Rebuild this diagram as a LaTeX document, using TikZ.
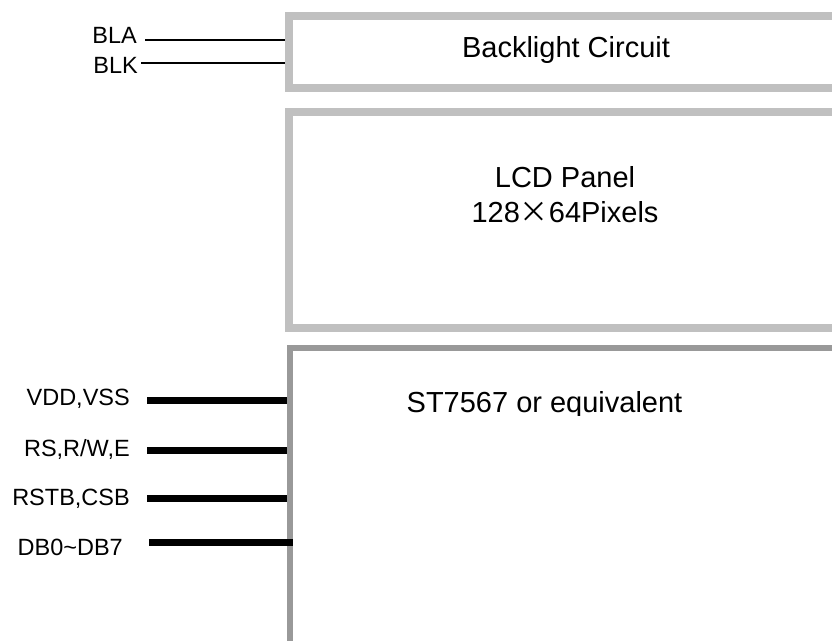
\documentclass[tikz,border=0pt]{standalone}
\usepackage{fontspec}
\setmainfont{Liberation Sans}
\newfontfamily\cjkfont{Noto Sans CJK SC}
\usetikzlibrary{positioning}
\definecolor{panelgray}{RGB}{192,192,192}
\definecolor{chipgray}{RGB}{153,153,153}

\begin{document}
\begin{tikzpicture}[x=1pt,y=-1pt,
    blockbox/.style={draw=panelgray,line width=8pt,anchor=north west,minimum width=620pt,inner sep=0pt},
    chipbox/.style={draw=chipgray,line width=6pt,anchor=north west,minimum width=620pt,minimum height=330pt,inner sep=0pt},
    bigtext/.style={font=\fontsize{29}{35}\selectfont,inner sep=0pt,anchor=base},
    pintext/.style={font=\fontsize{23.5}{28}\selectfont,inner sep=0pt,anchor=base east},
    thinpin/.style={line width=1.3pt},
    buspin/.style={line width=7pt}]
    \clip (0,0) rectangle (832,640);

    % Backlight
    \node[blockbox,minimum height=72pt] (backlight) at (285,12) {};
    \node[bigtext] (backlighttext) at (566,57) {Backlight Circuit};

    % LCD panel
    \node[blockbox,minimum height=216pt] (panel) at (285,108) {};
    \node[bigtext] (paneltext) at (565,187) {LCD Panel};
    \node[bigtext] (pixeltext) at (565,222) {128{\cjkfont ×}64Pixels};

    % Controller
    \node[chipbox] (ctrl) at (287,345) {};
    \begin{scope}
        \clip (380,370) rectangle (720,415);
        \node[bigtext] (ctrltext) at (544.5,412) {ST7567 or equivalent};
    \end{scope}

    % Backlight pins
    \coordinate (bla) at (145,40);
    \coordinate (blk) at (141,63);
    \node[pintext] (blatext) at (137,43.5) {BLA};
    \node[pintext] (blktext) at (138,73) {BLK};
    \draw[thinpin] (bla) -- (bla -| backlight.west);
    \draw[thinpin] (blk) -- (blk -| backlight.west);

    % Controller pins
    \coordinate (vdd) at (147,400);
    \coordinate (rs) at (147,450);
    \coordinate (rstb) at (147,498);
    \coordinate (db) at (149,542);
    \node[pintext] (vddtext) at (130,405) {VDD,VSS};
    \node[pintext] (rstext) at (130,456.5) {RS,R/W,E};
    \node[pintext] (rstbtext) at (130,505.5) {RSTB,CSB};
    \node[pintext] (dbtext) at (123,555) {DB0\char"7E DB7};
    \draw[buspin] (vdd) -- (vdd -| ctrl.west);
    \draw[buspin] (rs) -- (rs -| ctrl.west);
    \draw[buspin] (rstb) -- (rstb -| ctrl.west);
    \draw[buspin,shorten >=-6pt] (db) -- (db -| ctrl.west);
\end{tikzpicture}
\end{document}
